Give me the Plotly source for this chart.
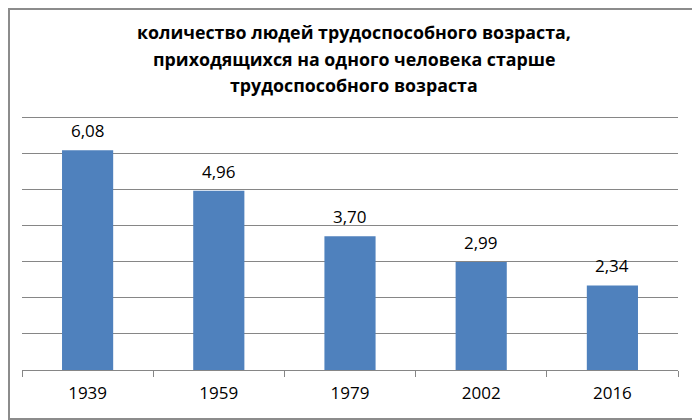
import plotly.graph_objects as go

years = ["1939", "1959", "1979", "2002", "2016"]
values = [6.08, 4.96, 3.70, 2.99, 2.34]
labels = ["6,08", "4,96", "3,70", "2,99", "2,34"]
title_lines = [
    "количество людей трудоспособного возраста,",
    "приходящихся на одного человека старше",
    "трудоспособного возраста",
]

FONT = "Open Sans, Liberation Sans, sans-serif"
# page has an 8px body margin, so the figure is sized/offset to compensate
W, H = 692, 412
ml, mr, mt, mb = 14, 22, 108, 50
pw = W - ml - mr
ph = H - mt - mb

fig = go.Figure(go.Bar(
    x=years, y=values,
    marker=dict(color="#4F81BD", line=dict(width=0)),
    hoverinfo="x+y",
))

annotations = []
for i, (v, lab) in enumerate(zip(values, labels)):
    annotations.append(dict(
        x=i, y=v, xref="x", yref="y", text=lab, showarrow=False,
        yanchor="bottom", yshift=6,
        font=dict(size=17, color="#000000", family=FONT),
    ))

title_y_px = [24, 51, 77]
for line, ypx in zip(title_lines, title_y_px):
    annotations.append(dict(
        x=(W / 2 - ml) / pw, xref="paper",
        y=(H - mb - ypx) / ph, yref="paper",
        text="<b>" + line + "</b>", showarrow=False,
        xanchor="center", yanchor="middle",
        font=dict(size=17.8, color="#000000", family=FONT),
    ))

fig.update_layout(
    width=W, height=H,
    margin=dict(l=ml, r=mr, t=mt, b=mb),
    paper_bgcolor="white", plot_bgcolor="white",
    bargap=0.61,
    showlegend=False,
    annotations=annotations,
    xaxis=dict(
        type="category",
        showline=True, linecolor="#868686", linewidth=1,
        ticks="outside", tickson="boundaries", ticklen=6, tickcolor="#868686",
        ticklabelstandoff=8,
        tickfont=dict(size=17, color="#000000", family=FONT),
        showgrid=False,
    ),
    yaxis=dict(
        range=[0, 7.03], dtick=1, showticklabels=False,
        showgrid=True, gridcolor="#868686", gridwidth=1,
        zeroline=False, showline=False,
    ),
    shapes=[dict(
        type="rect", xref="paper", yref="paper",
        x0=(1 - ml) / pw, x1=(W - 1 - ml) / pw,
        y0=(H - mb - (H - 1)) / ph, y1=(H - mb - 1) / ph,
        line=dict(color="#8C8C8C", width=2), fillcolor="rgba(0,0,0,0)",
        layer="above",
    )],
)

fig.write_html("out.html")
